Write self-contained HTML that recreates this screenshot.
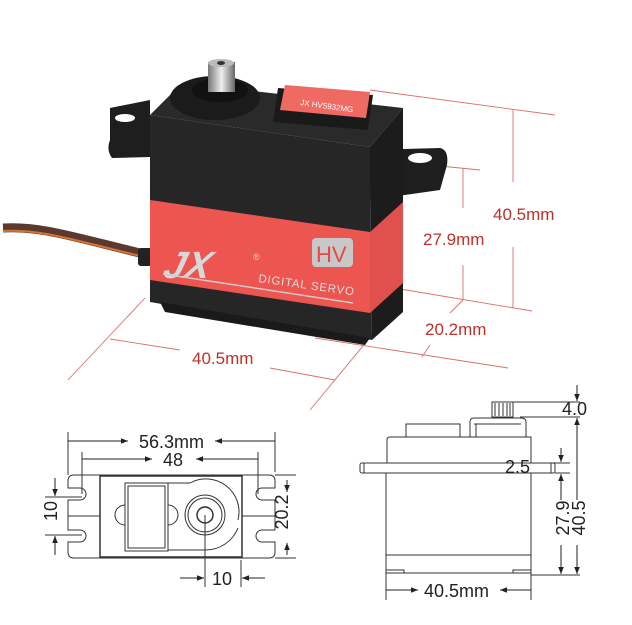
<!DOCTYPE html>
<html><head><meta charset="utf-8"><style>
html,body{margin:0;padding:0;background:#fff;}
svg{display:block;}
.d{font-family:"Liberation Sans",sans-serif;font-size:18px;fill:#222;}
.r{font-family:"Liberation Sans",sans-serif;font-size:17px;fill:#c0302a;}
</style></head><body>
<svg width="632" height="625" viewBox="0 0 632 625" xmlns="http://www.w3.org/2000/svg">
<defs>
<linearGradient id="sil" x1="0" x2="1"><stop offset="0" stop-color="#777"/><stop offset=".5" stop-color="#eee"/><stop offset="1" stop-color="#666"/></linearGradient>
<marker id="a" viewBox="0 0 10 10" refX="10" refY="5" markerWidth="7" markerHeight="7" orient="auto-start-reverse"><path d="M0,1 L10,5 L0,9 z" fill="#222"/></marker>
</defs>
<rect width="632" height="625" fill="#fff"/>

<g stroke="#d9706a" stroke-width="0.9" fill="none">
<line x1="370" y1="90" x2="555" y2="115"/>
<line x1="513" y1="109" x2="513" y2="182"/><line x1="513" y1="247" x2="513" y2="308"/>
<line x1="400" y1="289" x2="532" y2="311"/>
<line x1="440" y1="166" x2="480" y2="170"/>
<line x1="463" y1="168" x2="463" y2="208"/><line x1="463" y1="265" x2="463" y2="300"/>
<line x1="463" y1="300" x2="450" y2="313"/>
<line x1="315" y1="338" x2="508" y2="368"/>
<line x1="430" y1="345" x2="422" y2="357"/>
<line x1="145" y1="298" x2="68" y2="380"/>
<line x1="110" y1="339" x2="180" y2="350"/>
<line x1="270" y1="368" x2="335" y2="380"/>
<line x1="382" y1="323" x2="310" y2="410"/>
</g>
<text class="r" x="493" y="220">40.5mm</text>
<text class="r" x="423" y="245">27.9mm</text>
<text class="r" x="425" y="335">20.2mm</text>
<text class="r" x="192" y="364">40.5mm</text>

<path d="M3,228 C40,226 70,236 140,253" stroke="#5a3a30" stroke-width="9" fill="none"/>
<path d="M3,231 C40,229 70,239 140,256" stroke="#d9722e" stroke-width="2" fill="none"/>
<rect x="138" y="248" width="14" height="18" rx="3" fill="#222"/>

<path d="M110,108 L150,100 L150,157 L112,158 Q106,150 110,140 Z" fill="#1e1e1e"/>
<path d="M370,150 L440,148 Q449,150 447,165 L440,190 L370,200 Z" fill="#1e1e1e"/>
<ellipse cx="420" cy="158" rx="12" ry="5" fill="#fff"/>
<ellipse cx="125" cy="118" rx="10" ry="4" fill="#fff"/>

<polygon points="150,115 182,83 403,108 370,147" fill="#2a2a2a"/>
<polygon points="150,115 370,147 372,340 150,302" fill="#262626"/>
<polygon points="370,147 403,108 403,312 372,340" fill="#1c1c1c"/>
<polygon points="150,200 370,232 370,313 150,280" fill="#ec5550"/>
<polygon points="370,232 403,202 403,283 370,313" fill="#e0504c"/>
<polygon points="160,302 370,338 365,345 165,312" fill="#1a1a1a"/>

<ellipse cx="215" cy="98" rx="45" ry="22" fill="#1b1b1b"/>
<ellipse cx="220" cy="90" rx="28" ry="12" fill="#111"/>
<rect x="208" y="62" width="27" height="30" fill="url(#sil)"/>
<ellipse cx="221" cy="63" rx="13" ry="4" fill="#bbb"/>
<ellipse cx="221" cy="63" rx="4" ry="2" fill="#333"/>
<polygon points="278,88 373,95 368,130 273,122" fill="#1a1a1a"/>
<polygon points="285,85 370,92 366,118 280,110" fill="#ee6a62"/>
<text x="300" y="105" font-family="Liberation Sans,sans-serif" font-size="8" fill="#fff" transform="rotate(8 300 105)">JX HV5932MG</text>

<text x="236" y="278" font-family="Liberation Sans,sans-serif" font-size="38" font-style="italic" font-weight="bold" fill="#d8d8d8" transform="skewX(-15)">JX</text>
<text x="253" y="260" font-family="Liberation Sans,sans-serif" font-size="9" fill="#ddd">®</text>
<line x1="163" y1="274" x2="353" y2="303" stroke="#ccc" stroke-width="1.5"/>
<text x="258" y="282" font-family="Liberation Sans,sans-serif" font-size="11.5" letter-spacing="0.8" fill="#ddd" transform="rotate(8 258 282)">DIGITAL SERVO</text>
<rect x="312" y="238" width="41" height="29" rx="4" fill="#c8c8c8"/>
<text x="316" y="262" font-family="Liberation Sans,sans-serif" font-size="22" fill="#e24b45">HV</text>

<g stroke="#333" stroke-width="1" fill="none">
<path d="M74,475 H269 Q275,475 275,481 V488 Q270,488 262,488 A6,6 0 0 0 262,500 Q270,500 275,500 V530 Q270,530 262,530 A6,6 0 0 0 262,542 Q270,542 275,542 V552 Q275,558 269,558 H74 Q68,558 68,552 V542 Q73,542 80,542 A6,6 0 0 0 80,530 Q73,530 68,530 V500 Q73,500 80,500 A6,6 0 0 0 80,488 Q73,488 68,488 V481 Q68,475 74,475 Z"/>
<rect x="100" y="476" width="142" height="81" stroke-width="1.5"/>
<rect x="125" y="483" width="43" height="68"/>
<rect x="128" y="486" width="37" height="62"/>
<path d="M125,505 A10,10 0 0 0 125,525"/><path d="M168,505 A10,10 0 0 1 168,525"/>
<path d="M168,483 H190 A33,33 0 0 1 238,520"/>
<path d="M168,550 H205 A35,35 0 0 0 238,528"/>
<circle cx="205" cy="515" r="20"/><circle cx="205" cy="515" r="17"/>
<circle cx="205" cy="515" r="8" stroke-width="1.5"/>
<line x1="68" y1="516" x2="100" y2="516"/><line x1="242" y1="516" x2="275" y2="516"/>
<line x1="68" y1="432" x2="68" y2="475"/><line x1="275" y1="432" x2="275" y2="472"/>
<line x1="82" y1="452" x2="82" y2="494"/><line x1="258" y1="452" x2="258" y2="494"/>
<line x1="45" y1="497" x2="82" y2="497"/><line x1="45" y1="535" x2="82" y2="535"/>
<line x1="275" y1="475" x2="296" y2="475"/><line x1="275" y1="558" x2="296" y2="558"/>
<line x1="205" y1="515" x2="205" y2="587"/><line x1="241" y1="560" x2="241" y2="587"/>
</g>
<g stroke="#222" stroke-width="1" fill="none" marker-end="url(#a)">
<line x1="68" y1="441" x2="128" y2="441"/><line x1="275" y1="441" x2="215" y2="441"/>
<line x1="82" y1="459" x2="152" y2="459"/><line x1="258" y1="459" x2="196" y2="459"/>
<line x1="55" y1="478" x2="55" y2="496"/><line x1="55" y1="555" x2="55" y2="536"/>
<line x1="287" y1="480" x2="287" y2="492"/><line x1="287" y1="555" x2="287" y2="543"/>
<line x1="180" y1="578" x2="204" y2="578"/><line x1="265" y1="578" x2="242" y2="578"/>
</g>
<text class="d" x="139" y="448">56.3mm</text>
<text class="d" x="163" y="466">48</text>
<text class="d" x="62" y="516" text-anchor="middle" transform="rotate(-90 57 516)">10</text>
<text class="d" x="294" y="518" text-anchor="middle" transform="rotate(-90 288 518)">20.2</text>
<text class="d" x="212" y="585">10</text>

<g stroke="#333" stroke-width="1" fill="none">
<rect x="492" y="402" width="21" height="15"/>
<path d="M495,403 V416 M499,403 V416 M503,403 V416 M507,403 V416 M510,403 V416"/>
<path d="M470,437 V422 Q470,418 474,418 H521 Q526,418 526,422 V437"/>
<line x1="474" y1="424" x2="521" y2="424"/>
<rect x="406" y="424" width="54" height="13"/>
<line x1="476" y1="424" x2="476" y2="437"/>
<path d="M387,463 V440 Q387,437 390,437 H531 V463"/>
<rect x="360" y="463" width="195" height="10" rx="2"/>
<line x1="364" y1="463" x2="364" y2="473"/><line x1="551" y1="463" x2="551" y2="473"/>
<rect x="386" y="473" width="145" height="100"/>
<line x1="386" y1="555" x2="531" y2="555"/>
<rect x="386" y="570" width="18" height="3"/><rect x="513" y="570" width="18" height="3"/>
<line x1="513" y1="402" x2="580" y2="402"/><line x1="520" y1="417" x2="580" y2="417"/>
<line x1="531" y1="463" x2="570" y2="463"/><line x1="555" y1="473" x2="570" y2="473"/>
<line x1="531" y1="575" x2="580" y2="575"/>
<line x1="386" y1="573" x2="386" y2="600"/><line x1="531" y1="573" x2="531" y2="600"/>
</g>
<g stroke="#222" stroke-width="1" fill="none" marker-end="url(#a)">
<line x1="577" y1="385" x2="577" y2="401"/><line x1="577" y1="500" x2="577" y2="418"/>
<line x1="577" y1="545" x2="577" y2="574"/>
<line x1="561" y1="448" x2="561" y2="462"/><line x1="561" y1="500" x2="561" y2="474"/>
<line x1="561" y1="545" x2="561" y2="574"/>
<line x1="386" y1="590" x2="418" y2="590"/><line x1="531" y1="590" x2="500" y2="590"/>
</g>
<text class="d" x="562" y="415">4.0</text>
<text class="d" x="505" y="473">2.5</text>
<text class="d" x="563" y="518" text-anchor="middle" transform="rotate(-90 563 518)" dy="6">27.9</text>
<text class="d" x="579" y="518" text-anchor="middle" transform="rotate(-90 579 518)" dy="6">40.5</text>
<text class="d" x="424" y="597">40.5mm</text>
</svg>
</body></html>
